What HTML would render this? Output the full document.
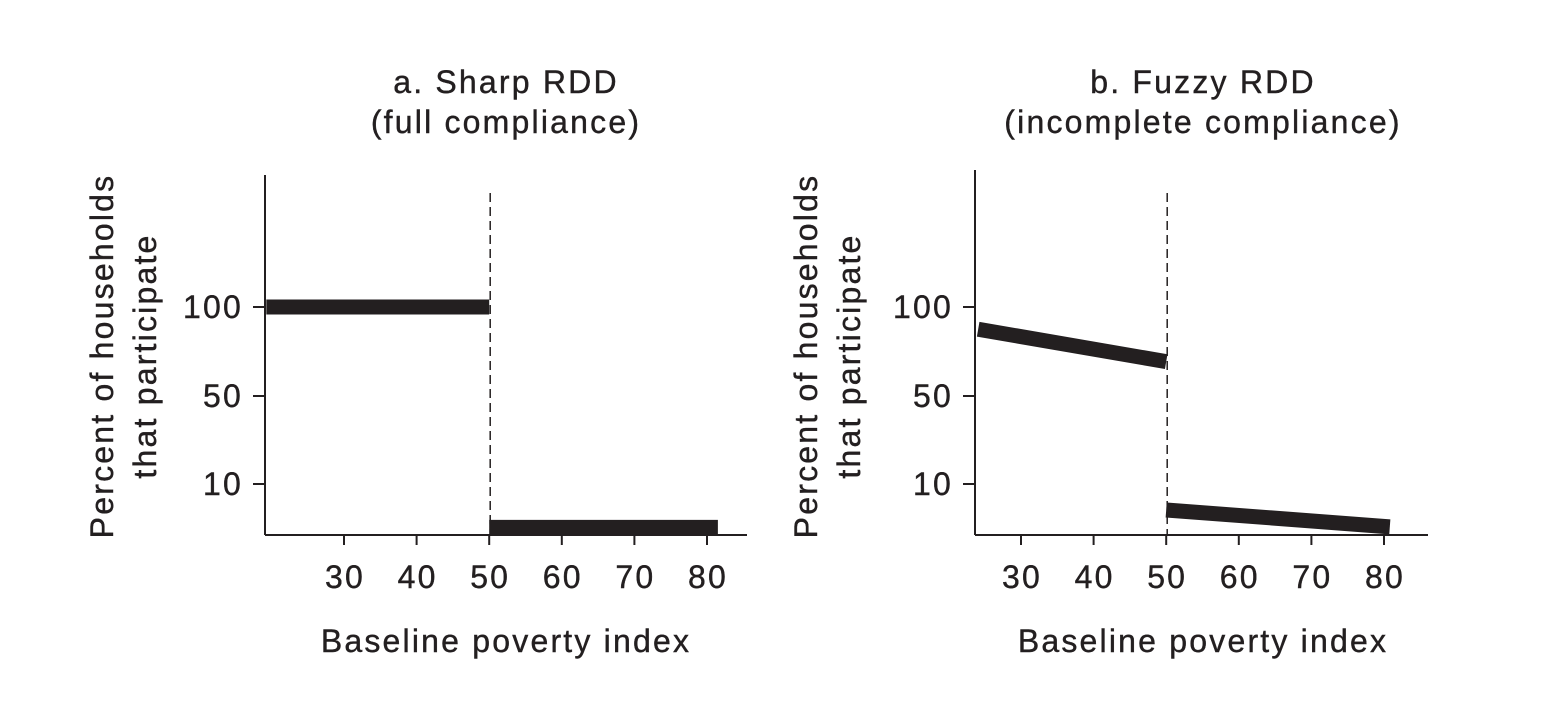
<!DOCTYPE html>
<html><head><meta charset="utf-8"><style>
html,body{margin:0;padding:0;background:#fff;}
svg{display:block;font-family:"Liberation Sans",Arial,sans-serif;fill:#231f20;}
svg text{letter-spacing:2.2px;stroke:#231f20;stroke-width:0.4px;}
</style></head><body>
<svg id="chart" width="1548" height="724" viewBox="0 0 1548 724"></svg>
<script>
const xTicks = [30, 40, 50, 60, 70, 80];
const yTicks = [10, 50, 100];
const cutoff = 50;
const panelTitles = [["a. Sharp RDD", "(full compliance)"], ["b. Fuzzy RDD", "(incomplete compliance)"]];
const sharpSegments = [[[19.3, 100], [50, 100]], [[50, 1.5], [81.5, 1.5]]];
const fuzzySegments = [[[24.1, 87.5], [50, 69.3]], [[50, 4.9], [80.8, 1.6]]];

const NS = "http://www.w3.org/2000/svg";
const svg = document.getElementById('chart');
function mk(tag, attrs, parent) {
  const e = document.createElementNS(NS, tag);
  for (const k in attrs) e.setAttribute(k, attrs[k]);
  (parent || svg).appendChild(e);
  return e;
}
const yVals = [0, 10, 50, 100];
const yPix = [535, 484, 396, 307];
function yScale(v) {
  for (let i = 0; i < yVals.length - 1; i++) {
    if (v <= yVals[i + 1] || i === yVals.length - 2) {
      const t = (v - yVals[i]) / (yVals[i + 1] - yVals[i]);
      return yPix[i] + t * (yPix[i + 1] - yPix[i]);
    }
  }
}
const panels = [
  { axisX: 265, axisTop: 175, axisRight: 747, x30: 344, pxPer10: 72.6, cx: 506, ytx: 101, segs: sharpSegments },
  { axisX: 975, axisTop: 170, axisRight: 1428, x30: 1021, pxPer10: 72.6, cx: 1203, ytx: 805, segs: fuzzySegments }
];
panels.forEach((p, pi) => {
  const g = mk('g', {});
  
  
  const xScale = v => p.x30 + (v - 30) / 10 * p.pxPer10;
  panelTitles[pi].forEach((t, i) => {
    const tx = mk('text', { x: p.cx, y: 93 + i * 40, 'font-size': 32, 'text-anchor': 'middle' }, g);
    tx.textContent = t;
    
    
  });
  const ya = mk('line', { x1: p.axisX, y1: p.axisTop, x2: p.axisX, y2: 535, stroke: '#231f20', 'stroke-width': 2 }, g);
  
  
  const xa = mk('line', { x1: p.axisX, y1: 535, x2: p.axisRight, y2: 535, stroke: '#231f20', 'stroke-width': 2 }, g);
  
  
  xTicks.forEach(v => {
    const x = xScale(v);
    mk('line', { x1: x, y1: 535, x2: x, y2: 545, stroke: '#231f20', 'stroke-width': 2 }, g);
    const t = mk('text', { x: x + 1, y: 588, 'font-size': 32, 'text-anchor': 'middle' }, g);
    t.textContent = v;
    
    
  });
  yTicks.forEach(v => {
    const y = yScale(v);
    mk('line', { x1: p.axisX - 12, y1: y, x2: p.axisX, y2: y, stroke: '#231f20', 'stroke-width': 2 }, g);
    const t = mk('text', { x: p.axisX - 22, y: y + 11, 'font-size': 32, 'text-anchor': 'end' }, g);
    t.textContent = v;
    
    
  });
  const cx = xScale(cutoff);
  const dl = mk('line', { x1: cx + 1, y1: 193, x2: cx + 1, y2: 535, stroke: '#231f20', 'stroke-width': 1.5, 'stroke-dasharray': '9,5' }, g);
  
  
  p.segs.forEach((s, si) => {
    const l = mk('line', { x1: xScale(s[0][0]), y1: yScale(s[0][1]), x2: xScale(s[1][0]), y2: yScale(s[1][1]), stroke: '#231f20', 'stroke-width': 15 }, g);
    
    
  });
  const xt = mk('text', { x: p.cx, y: 652, 'font-size': 32, 'text-anchor': 'middle' }, g);
  xt.textContent = 'Baseline poverty index';
  
  
  ['Percent of households', 'that participate'].forEach((t, i) => {
    const x = p.ytx + i * 43 + 12;
    const yt = mk('text', { x: x, y: 356, 'font-size': 32, 'text-anchor': 'middle', transform: `rotate(-90 ${x} 356)` }, g);
    yt.textContent = t;
    
    
  });
});
</script>
</body></html>
